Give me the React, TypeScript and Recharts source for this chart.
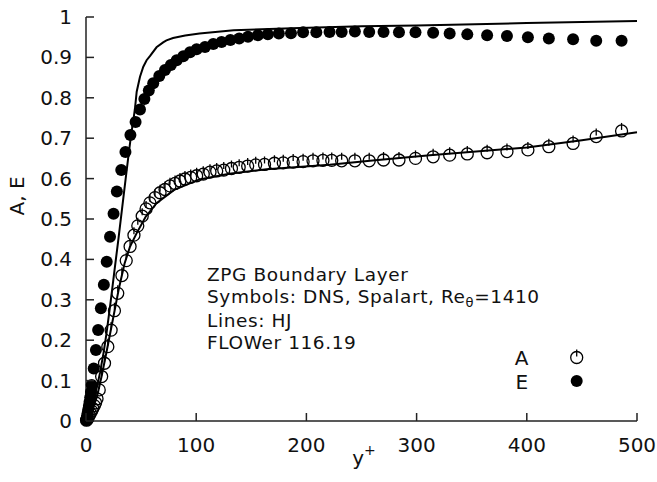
import React from 'react';
import { ComposedChart, Scatter, XAxis, YAxis, Legend, Customized } from 'recharts';

const FONT = '"DejaVu Sans", sans-serif';
const FS = 20;
const NOTE_FS = 18.5;
const INK = '#111';
const FRAME = '#222';

// axis ticks
const yPlusTicks = [0, 100, 200, 300, 400, 500];
const aeTicks = [0, 0.1, 0.2, 0.3, 0.4, 0.5, 0.6, 0.7, 0.8, 0.9, 1];

// DNS (Spalart) symbols: E
const eDnsYPlus = [0.2, 0.6, 1, 1.5, 2, 2.6, 3.2, 3.8, 4.5, 5.2, 7, 9, 11, 13.5, 16.2, 18.8, 21.8, 25, 28, 32, 35.8, 40.3, 45, 49, 53, 57, 61, 66.5, 71.7, 77, 82.3, 88.3, 94.4, 100.4, 108, 115.5, 123, 131, 139, 147, 156, 165, 175, 186, 197, 209, 221, 232, 244, 257, 270, 284, 299, 315, 330, 346, 364, 382, 401, 420, 442, 463, 486];
const eDnsValues = [0.002, 0.007, 0.013, 0.02, 0.028, 0.037, 0.047, 0.058, 0.072, 0.089, 0.13, 0.176, 0.225, 0.279, 0.337, 0.394, 0.456, 0.513, 0.568, 0.621, 0.666, 0.708, 0.74, 0.771, 0.797, 0.818, 0.836, 0.854, 0.869, 0.881, 0.893, 0.903, 0.913, 0.92, 0.926, 0.933, 0.938, 0.943, 0.947, 0.951, 0.955, 0.957, 0.959, 0.96, 0.962, 0.962, 0.963, 0.963, 0.964, 0.963, 0.963, 0.962, 0.962, 0.961, 0.959, 0.957, 0.955, 0.953, 0.95, 0.947, 0.945, 0.941, 0.941];

// DNS (Spalart) symbols: A
const aDnsYPlus = [0.5, 1.2, 2, 2.9, 3.9, 5, 6.2, 7.5, 8.7, 10, 12, 14.2, 16.8, 19.8, 22.8, 25.8, 28.8, 32.6, 36.5, 40, 43.5, 47, 51, 54.5, 58, 62.6, 67.2, 71.7, 76.2, 80.8, 85.3, 89.8, 95, 100.4, 106.4, 112.5, 118.6, 125, 132, 139, 146.7, 154, 162, 171, 179, 188, 197, 206, 215, 223, 232, 244, 257, 270, 284, 299, 315, 330, 346, 364, 382, 401, 420, 442, 463, 486];
const aDnsValues = [0.002, 0.005, 0.009, 0.014, 0.019, 0.025, 0.031, 0.038, 0.045, 0.055, 0.077, 0.11, 0.143, 0.184, 0.225, 0.273, 0.316, 0.36, 0.397, 0.432, 0.46, 0.483, 0.507, 0.525, 0.54, 0.553, 0.565, 0.573, 0.582, 0.588, 0.594, 0.599, 0.603, 0.607, 0.611, 0.616, 0.619, 0.621, 0.625, 0.628, 0.631, 0.634, 0.635, 0.638, 0.639, 0.641, 0.642, 0.644, 0.645, 0.645, 0.644, 0.644, 0.644, 0.646, 0.646, 0.65, 0.654, 0.658, 0.661, 0.664, 0.667, 0.671, 0.679, 0.687, 0.704, 0.718];

// HJ lines (FLOWer 116.19)
const eHjYPlus = [0, 3, 6.6, 10, 12.7, 16, 18.5, 21.8, 25.5, 29.3, 33, 36, 38.4, 41, 43, 44.5, 46, 49, 52, 55, 58, 64, 70, 73, 79, 90, 103, 134, 194, 250, 300, 400, 500];
const eHjValues = [0, 0.022, 0.052, 0.085, 0.119, 0.17, 0.215, 0.283, 0.365, 0.448, 0.532, 0.6, 0.654, 0.71, 0.745, 0.775, 0.815, 0.852, 0.877, 0.893, 0.903, 0.925, 0.937, 0.942, 0.948, 0.954, 0.959, 0.967, 0.973, 0.977, 0.979, 0.985, 0.99];
const aHjYPlus = [0, 5, 10, 14.5, 20, 25, 30, 35, 40, 46, 54, 64, 80, 103, 130, 164, 221, 260, 312, 400, 450, 500];
const aHjValues = [0, 0.025, 0.06, 0.115, 0.19, 0.26, 0.33, 0.39, 0.432, 0.465, 0.505, 0.539, 0.572, 0.598, 0.612, 0.623, 0.634, 0.645, 0.658, 0.677, 0.695, 0.715];

const legendNames = ['A', 'E'];
const annotationLines = ['ZPG Boundary Layer', 'Symbols: DNS, Spalart, Re', 'Lines: HJ', 'FLOWer 116.19'];

const pair = (xs: number[], ys: number[]) => xs.map((x, i) => ({ x, y: ys[i] }));
const eDns = pair(eDnsYPlus, eDnsValues);
const aDns = pair(aDnsYPlus, aDnsValues);
const eHj = pair(eHjYPlus, eHjValues);
const aHj = pair(aHjYPlus, aHjValues);

const TICK_LEN = 8;

const BottomTick = (p: any) => {
  const { x, y, payload } = p;
  return (
    <g>
      <line x1={x} x2={x} y1={y} y2={y - TICK_LEN} stroke={FRAME} strokeWidth={1.5} />
      <text x={x} y={y + 24} textAnchor="middle" dominantBaseline="central" fontFamily={FONT} fontSize={FS} fill={INK}>
        {payload.value}
      </text>
    </g>
  );
};
const TopTick = (p: any) => {
  const { x, y } = p;
  return <line x1={x} x2={x} y1={y} y2={y + TICK_LEN} stroke={FRAME} strokeWidth={1.5} />;
};
const LeftTick = (p: any) => {
  const { x, y, payload } = p;
  return (
    <g>
      <line x1={x} x2={x + TICK_LEN} y1={y} y2={y} stroke={FRAME} strokeWidth={1.5} />
      <text x={x - 14} y={y} textAnchor="end" dominantBaseline="central" fontFamily={FONT} fontSize={FS} fill={INK}>
        {String(payload.value)}
      </text>
    </g>
  );
};
const RightTick = (p: any) => {
  const { x, y } = p;
  return <line x1={x} x2={x - TICK_LEN} y1={y} y2={y} stroke={FRAME} strokeWidth={1.5} />;
};

const FilledDot = (p: any) => {
  const { cx, cy } = p;
  if (cx == null || cy == null) return <g />;
  return <circle cx={cx} cy={cy} r={6} fill="#000" />;
};
const OpenDot = (p: any) => {
  const { cx, cy } = p;
  if (cx == null || cy == null) return <g />;
  return (
    <g>
      <circle cx={cx} cy={cy} r={6} fill="none" stroke="#000" strokeWidth={1.3} />
      <line x1={cx} x2={cx} y1={cy - 8} y2={cy - 1} stroke="#000" strokeWidth={1.3} />
    </g>
  );
};
const NoDot = () => <g />;

const Texts = () => (
  <g fontFamily={FONT} fill={INK}>
    <text x={17} y={196} fontSize={FS} transform="rotate(-90 17 196)" textAnchor="middle" dominantBaseline="central">
      A, E
    </text>
    <text x={364} y={465} fontSize={FS} textAnchor="middle">
      y<tspan dy={-10} fontSize={14}>+</tspan>
    </text>
    <g fontSize={NOTE_FS} letterSpacing={0.6}>
      <text x={207} y={281}>{annotationLines[0]}</text>
      <text x={207} y={302.6}>
        {annotationLines[1]}
        <tspan dy={4} fontSize={13}>θ</tspan>
        <tspan dy={-4}>=1410</tspan>
      </text>
      <text x={207} y={327}>{annotationLines[2]}</text>
      <text x={207} y={348.6}>{annotationLines[3]}</text>
    </g>
  </g>
);

const LegendBox = () => (
  <svg width={100} height={56} style={{ display: 'block' }}>
    <text x={21.7} y={18} textAnchor="middle" dominantBaseline="central" fontFamily={FONT} fontSize={FS} fill={INK}>
      {legendNames[0]}
    </text>
    <text x={21.7} y={41.5} textAnchor="middle" dominantBaseline="central" fontFamily={FONT} fontSize={FS} fill={INK}>
      {legendNames[1]}
    </text>
    <OpenDot cx={76.7} cy={17.5} />
    <FilledDot cx={76.7} cy={41} />
  </svg>
);

export default function App() {
  return (
    <div style={{ position: 'absolute', left: 0, top: 0, width: 657, height: 482, background: '#fff' }}>
      <ComposedChart width={657} height={482} margin={{ top: 17, right: 20, bottom: 0, left: 0 }}>
        <XAxis
          dataKey="x"
          type="number"
          domain={[0, 500]}
          ticks={yPlusTicks}
          height={61}
          tickSize={0}
          tickMargin={0}
          tick={BottomTick}
          axisLine={{ stroke: FRAME, strokeWidth: 1.5 }}
          tickLine={false}
        />
        <XAxis
          xAxisId="top"
          orientation="top"
          dataKey="x"
          type="number"
          domain={[0, 500]}
          ticks={yPlusTicks}
          height={0}
          tickSize={0}
          tickMargin={0}
          tick={TopTick}
          axisLine={{ stroke: FRAME, strokeWidth: 1.5 }}
          tickLine={false}
        />
        <YAxis
          dataKey="y"
          type="number"
          domain={[0, 1]}
          ticks={aeTicks}
          width={86}
          tickSize={0}
          tickMargin={0}
          tick={LeftTick}
          axisLine={{ stroke: FRAME, strokeWidth: 1.5 }}
          tickLine={false}
        />
        <YAxis
          yAxisId="right"
          orientation="right"
          dataKey="y"
          type="number"
          domain={[0, 1]}
          ticks={aeTicks}
          width={0}
          tickSize={0}
          tickMargin={0}
          tick={RightTick}
          axisLine={{ stroke: FRAME, strokeWidth: 1.5 }}
          tickLine={false}
        />
        <Scatter name="E DNS" data={eDns} shape={FilledDot} isAnimationActive={false} />
        <Scatter name="A DNS" data={aDns} shape={OpenDot} isAnimationActive={false} />
        <Scatter name="E HJ" data={eHj} shape={NoDot} line={{ stroke: '#000', strokeWidth: 2 }} lineType="joint" isAnimationActive={false} />
        <Scatter name="A HJ" data={aHj} shape={NoDot} line={{ stroke: '#000', strokeWidth: 2 }} lineType="joint" isAnimationActive={false} />
        <Customized component={Texts} />
        <Legend
          layout="vertical"
          align="center"
          verticalAlign="middle"
          wrapperStyle={{ left: 500, top: 340, width: 100, height: 56 }}
          content={LegendBox}
        />
      </ComposedChart>
    </div>
  );
}
